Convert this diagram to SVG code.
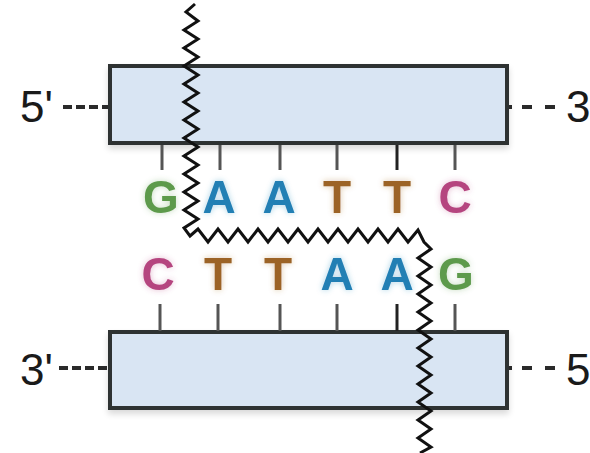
<svg xmlns="http://www.w3.org/2000/svg" width="590" height="453" viewBox="0 0 590 453">
<defs>
<filter id="glow" x="-30%" y="-30%" width="160%" height="160%">
<feGaussianBlur in="SourceGraphic" stdDeviation="3" result="b"/>
<feComponentTransfer in="b" result="c"><feFuncA type="linear" slope="0.35"/></feComponentTransfer>
<feMerge><feMergeNode in="c"/><feMergeNode in="SourceGraphic"/></feMerge>
</filter>
<filter id="shadow" x="-5%" y="-10%" width="110%" height="130%">
<feGaussianBlur in="SourceAlpha" stdDeviation="3"/>
<feOffset dx="0" dy="4" result="o"/>
<feComponentTransfer><feFuncA type="linear" slope="0.15"/></feComponentTransfer>
<feMerge><feMergeNode/><feMergeNode in="SourceGraphic"/></feMerge>
</filter>
</defs>
<style>
.box{fill:#d9e5f3;stroke:#2e3033;stroke-width:4}
.lbl{font-family:"Liberation Sans",Arial,sans-serif;font-size:44px;fill:#1a1a1a}
.dash{stroke:#2a2a2a;stroke-width:4;fill:none}
.tick{stroke:#555;stroke-width:3}
.base{font-family:"Liberation Sans",Arial,sans-serif;font-size:46px;font-weight:bold;text-anchor:middle}
.G{fill:#5d9a4c}.A{fill:#217fb4}.T{fill:#9c6428}.C{fill:#b5447f}
.cut{fill:none;stroke:#111;stroke-width:3;stroke-linejoin:miter}
</style>
<g id="top-strand">
<rect class="box" x="110" y="66" width="397" height="77" filter="url(#shadow)"/>
<text class="lbl" x="20" y="122">5'</text>
<line class="dash" x1="63" y1="107" x2="108" y2="107" stroke-dasharray="9,4"/>
<line class="dash" x1="509" y1="107" x2="556" y2="107" stroke-dasharray="3,10,10,13,10"/>
<text class="lbl" x="566" y="122">3'</text>
<line class="tick" x1="162" y1="145" x2="162" y2="170"/>
<line class="tick" x1="220" y1="145" x2="220" y2="170"/>
<line class="tick" x1="280" y1="145" x2="280" y2="170"/>
<line class="tick" x1="337" y1="145" x2="337" y2="170"/>
<line class="tick" x1="397" y1="145" x2="397" y2="170" style="stroke:#222"/>
<line class="tick" x1="455" y1="145" x2="455" y2="170"/>
<g filter="url(#glow)">
<text class="base G" x="161" y="213">G</text>
<text class="base A" x="219" y="213">A</text>
<text class="base A" x="279" y="213">A</text>
<text class="base T" x="337" y="213">T</text>
<text class="base T" x="397" y="213">T</text>
<text class="base C" x="455" y="213">C</text>
</g>
</g>
<g id="bottom-strand">
<rect class="box" x="110" y="332" width="397" height="76" filter="url(#shadow)"/>
<text class="lbl" x="20" y="385">3'</text>
<line class="dash" x1="59" y1="368" x2="108" y2="368" stroke-dasharray="9,4"/>
<line class="dash" x1="509" y1="368" x2="556" y2="368" stroke-dasharray="3,10,10,13,10"/>
<text class="lbl" x="566" y="385">5'</text>
<line class="tick" x1="160" y1="304" x2="160" y2="331"/>
<line class="tick" x1="218" y1="304" x2="218" y2="331"/>
<line class="tick" x1="280" y1="304" x2="280" y2="331"/>
<line class="tick" x1="337" y1="304" x2="337" y2="331"/>
<line class="tick" x1="397" y1="304" x2="397" y2="331" style="stroke:#222"/>
<line class="tick" x1="455" y1="304" x2="455" y2="331"/>
<g filter="url(#glow)">
<text class="base C" x="158" y="290">C</text>
<text class="base T" x="218" y="290">T</text>
<text class="base T" x="278" y="290">T</text>
<text class="base A" x="337" y="290">A</text>
<text class="base A" x="397" y="290">A</text>
<text class="base G" x="456" y="290">G</text>
</g>
</g>
<g id="connectors">
<polyline class="cut" points="195,4 186,12 198,21 184,30 198,39 184,48 198,57 184,66 198,75 184,84 198,93 184,102 198,111 184,120 198,129 184,138 198,147 184,156 198,165 184,174 198,183 184,192 198,201 184,210 198,219 184,228 190,236 198,229 208,242 218,229 228,242 238,229 248,242 258,229 268,242 278,229 288,242 298,229 308,242 318,229 328,242 338,229 348,242 358,229 368,242 378,229 388,242 398,229 408,242 418,230 424,242 431,249 418,258 431,267 418,276 431,285 418,294 431,303 418,312 431,321 418,330 431,339 418,348 431,357 418,366 431,375 418,384 431,393 418,402 431,411 418,420 431,429 418,438 431,447 420,453"/>
</g>
</svg>
